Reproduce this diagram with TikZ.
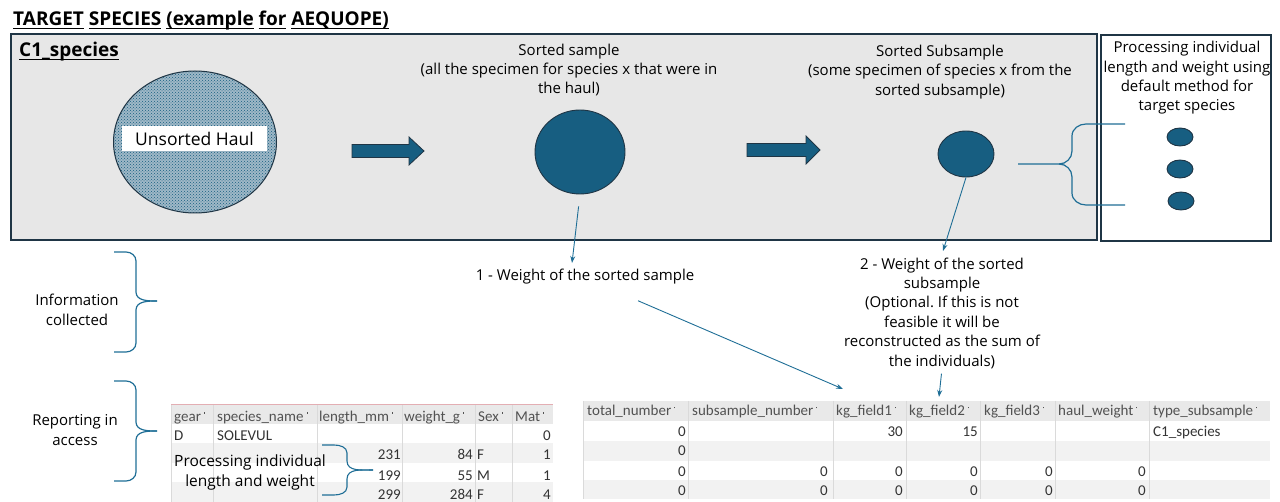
\documentclass[tikz,border=0pt]{standalone}
\usepackage{fontspec}
\setmainfont{Open Sans}
\newfontfamily\tabfont{Carlito}
\usetikzlibrary{shapes.geometric,patterns,arrows.meta}
\frenchspacing

\definecolor{boxgrey}{HTML}{E7E7E7}
\definecolor{edge}{HTML}{1F3545}
\definecolor{fishblue}{HTML}{175E81}
\definecolor{hatchbg}{HTML}{9FB8C7}
\definecolor{linkblue}{HTML}{1F6E96}
\definecolor{rowgrey}{HTML}{F2F2F2}
\definecolor{hdrgrey}{HTML}{E9E9E9}
\definecolor{gridgrey}{HTML}{DADADA}
\definecolor{hdrline}{HTML}{E3AEB3}

% word by word underline, as in the slide
\newcommand{\wul}[1]{\setbox0\hbox{#1}\rlap{\rule[-2.8pt]{\wd0}{1.2pt}}\box0\relax}
% small sort mark of the access headers
\newcommand{\srt}{\hspace{3pt}\raisebox{7.5pt}{\rule{0.9pt}{1.8pt}}}

\tikzset{
  txt/.style={align=center, inner sep=0pt, font=\fontsize{15}{19.4}\selectfont},
  fish/.style={ellipse, draw=edge, line width=0.9pt, fill=fishblue, inner sep=0pt},
  blockarr/.style={draw=edge, line width=0.8pt, fill=fishblue},
  link/.style={draw=linkblue, line width=0.9pt, -{Stealth[length=7pt,width=5pt]}},
  curl/.style={draw=linkblue, line width=1.2pt},
  hdr/.style={anchor=base west, inner sep=0pt, text=black!68, font=\tabfont\fontsize{15}{16}\selectfont},
  cellL/.style={anchor=base west, inner sep=0pt, text=black!80, font=\tabfont\fontsize{15}{16}\selectfont},
  cellR/.style={anchor=base east, inner sep=0pt, text=black!80, font=\tabfont\fontsize{15}{16}\selectfont},
}

\begin{document}
\begin{tikzpicture}[x=1pt,y=-1pt]
\useasboundingbox (0,0) rectangle (1280,502);

\node[anchor=base west, inner sep=0pt, font=\bfseries\fontsize{19}{22}\selectfont] (title) at (13,26)
  {\wul{TARGET} \wul{SPECIES} \wul{(example} \wul{for} \wul{AEQUOPE)}};

% top frames
\draw[edge, line width=1.2pt, fill=boxgrey] (11,34) rectangle (1097,240);
\draw[edge, line width=1.2pt, fill=white] (1101,35) rectangle (1271,241);
\node[anchor=base west, inner sep=0pt, font=\bfseries\fontsize{19}{22}\selectfont] (c1) at (19,57) {\wul{C1\_species}};

% unsorted haul
\node[ellipse, draw=edge, line width=1pt, minimum width=163pt, minimum height=142pt, inner sep=0pt,
  preaction={fill=hatchbg}, pattern=crosshatch dots, pattern color=fishblue] (haul) at (195,142) {};
\node[fill=white, minimum width=145pt, minimum height=25pt, inner sep=0pt, font=\fontsize{17.5}{20}\selectfont] (haullbl) at (194.5,138.5) {Unsorted Haul};

\draw[blockarr] (352,144.5) -- (409,144.5) -- (409,137) -- (424,151) -- (409,165) -- (409,157.5) -- (352,157.5) -- cycle;
\draw[blockarr] (747,143.5) -- (806,143.5) -- (806,136) -- (820,150) -- (806,164) -- (806,156.5) -- (747,156.5) -- cycle;

% sorted sample
\node[txt] (sortedlbl) at (569,70) {Sorted sample\\(all the specimen for species x that were in\\the haul)};
\node[fish, minimum width=90pt, minimum height=84pt] (sorted) at (580,152) {};

% sorted subsample
\node[txt] (sublbl) at (940,72) {Sorted Subsample\\(some specimen of species x from the\\sorted subsample)};
\node[fish, minimum width=56pt, minimum height=46pt] (sub) at (966,154) {};

% individuals
\node[txt] (indlbl) at (1187,78) {Processing individual\\length and weight using\\default method for\\target species};
\node[fish, minimum width=26pt, minimum height=18pt] (ind1) at (1180,137) {};
\node[fish, minimum width=26pt, minimum height=18pt] (ind2) at (1180,169) {};
\node[fish, minimum width=26pt, minimum height=18pt] (ind3) at (1181,201) {};
\draw[curl] (1125,124) -- (1086,124) to[out=180,in=90] (1072,136) -- (1072,151) to[out=270,in=0] (1059,164) -- (1018,164);
\draw[curl] (1125,205) -- (1086,205) to[out=180,in=270] (1072,193) -- (1072,177) to[out=90,in=0] (1059,164);

% weights
\node[txt] (w1) at (585,277) {1 - Weight of the sorted sample};
\node[txt] (w2) at (942,313) {2 - Weight of the sorted\\subsample\\(Optional. If this is not\\feasible it will be\\reconstructed as the sum of\\the individuals)};
\coordinate (w1top) at (572,263);
\coordinate (w2top) at (943,251);
\coordinate (kg1top) at (843,389);
\coordinate (kg2top) at (939,397);
\draw[link, shorten <=12pt] (sorted.south) -- (w1top);
\draw[link] (sub.south) -- (w2top);
\draw[link] ([shift={(53,16)}]w1.south) -- (kg1top);
\draw[link, shorten <=5pt] (w2.south) -- (kg2top);

% left labels
\node[txt] (info) at (77,310) {Information\\collected};
\node[txt] (report) at (75,430) {Reporting in\\access};
\draw[curl] (114,252) -- (126,252) to[out=0,in=90] (136,261) -- (136,292) to[out=270,in=180] (157,301);
\draw[curl] (114,352) -- (126,352) to[out=0,in=270] (136,343) -- (136,310) to[out=90,in=180] (157,301);
\draw[curl] (114,381) -- (126,381) to[out=0,in=90] (136,390) -- (136,422) to[out=270,in=180] (157,431);
\draw[curl] (114,481) -- (126,481) to[out=0,in=270] (136,472) -- (136,440) to[out=90,in=180] (157,431);

% access table, individuals
\fill[hdrgrey] (171,405) rectangle (553,424);
\fill[rowgrey] (171,443) rectangle (553,463);
\fill[rowgrey] (171,482) rectangle (553,502);
\draw[hdrline, line width=1pt] (171,405) -- (553,405);
\foreach \x in {171,213,317,402,475,512} \draw[gridgrey, line width=0.6pt] (\x,405) -- (\x,502);
\foreach \x/\t [count=\i] in {174/gear, 217/species\_name, 319/length\_mm, 404/weight\_g, 478/Sex, 515/Mat}
  \node[hdr] (lh\i) at (\x,421) {\t\srt};
\node[cellL] (gear1) at (174,441) {D};
\node[cellL] (spec1) at (217,441) {SOLEVUL};
\node[cellR] (mat1) at (551,441) {0};
\foreach \l/\w/\s/\m/\y [count=\i] in {231/84/F/1/460, 199/55/M/1/480, 299/284/F/4/499} {
  \node[cellR] (len\i) at (401,\y) {\l};
  \node[cellR] (wgt\i) at (473,\y) {\w};
  \node[cellL] (sex\i) at (477,\y) {\s};
  \node[cellR] (mat\i) at (551,\y) {\m};
}
\node[txt, font=\fontsize{15.5}{20}\selectfont] (proclbl) at (250,472) {Processing individual\\length and weight};
\draw[curl, line width=1.1pt] (322,445) -- (334,445) to[out=0,in=90] (347,453) -- (347,461) to[out=270,in=180] (373,470);
\draw[curl, line width=1.1pt] (322,495) -- (334,495) to[out=0,in=270] (347,487) -- (347,479) to[out=90,in=180] (373,470);

% access table, subsamples
\fill[hdrgrey] (583,401) rectangle (1270,421);
\fill[rowgrey] (583,441) rectangle (1270,461);
\fill[rowgrey] (583,480) rectangle (1270,499);
\foreach \x in {583,688,833,906,980,1055,1149} \draw[gridgrey, line width=0.6pt] (\x,401) -- (\x,499);
\foreach \x/\t [count=\i] in {587/total\_number, 692/subsample\_number, 836/kg\_field1, 909/kg\_field2, 984/kg\_field3, 1058/haul\_weight, 1153/type\_subsample}
  \node[hdr] (rh\i) at (\x,416) {\t\srt};
\node[cellR] (tot1) at (686,437) {0};
\node[cellR] (kga1) at (903,437) {30};
\node[cellR] (kgb1) at (978,437) {15};
\node[cellL] (typ1) at (1153,437) {C1\_species};
\node[cellR] (tot2) at (686,456) {0};
\foreach \y [count=\i from 3] in {476,495} {
  \node[cellR] (tot\i) at (686,\y) {0};
  \node[cellR] (ssn\i) at (828,\y) {0};
  \node[cellR] (kga\i) at (903,\y) {0};
  \node[cellR] (kgb\i) at (978,\y) {0};
  \node[cellR] (kgc\i) at (1053,\y) {0};
  \node[cellR] (hw\i) at (1146,\y) {0};
}
\end{tikzpicture}
\end{document}
